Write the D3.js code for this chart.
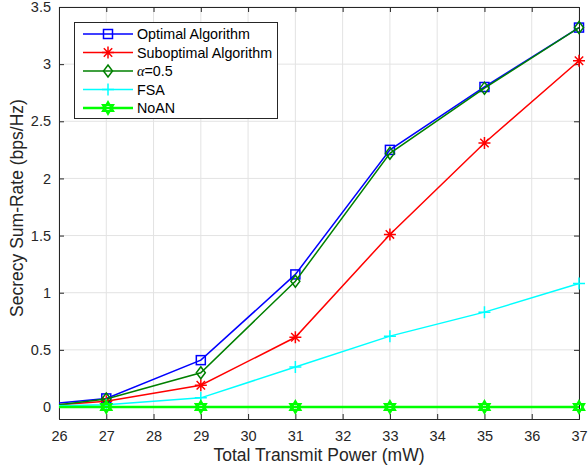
<!DOCTYPE html>
<html>
<head>
<meta charset="utf-8">
<script src="https://cdn.jsdelivr.net/npm/d3@7"></script>
<style>
  body { margin: 0; background: #fff; }
  text { font-family: "Liberation Sans", Arial, sans-serif; fill: #262626; }
</style>
</head>
<body>
<div id="chart"></div>
<script>
// data
var powers = [26, 27, 29, 31, 33, 35, 37];
var optimal = [0.035, 0.075, 0.41, 1.16, 2.25, 2.80, 3.32];
var suboptimal = [0.02, 0.05, 0.19, 0.61, 1.51, 2.31, 3.03];
var alpha05 = [0.02, 0.07, 0.30, 1.10, 2.22, 2.79, 3.32];
var fsa = [0.01, 0.02, 0.08, 0.35, 0.62, 0.83, 1.08];
var noan = [0, 0, 0, 0, 0, 0, 0];
var xTicks = [26, 27, 28, 29, 30, 31, 32, 33, 34, 35, 36, 37];
var yTicks = [0, 0.5, 1, 1.5, 2, 2.5, 3, 3.5];

var series = [
  {label: "Optimal Algorithm", values: optimal, color: "#0000ff", marker: "square", width: 1.5},
  {label: "Suboptimal Algorithm", values: suboptimal, color: "#ff0000", marker: "asterisk", width: 1.5},
  {label: "=0.5", greek: "\u03b1", values: alpha05, color: "#008000", marker: "diamond", width: 1.5},
  {label: "FSA", values: fsa, color: "#00ffff", marker: "plus", width: 1.5},
  {label: "NoAN", values: noan, color: "#00ff00", marker: "hexagram", width: 2.5}
];

var W = 588, H = 472;
var pLeft = 59, pRight = 579, pTop = 7, pBottom = 419;

var svg = d3.select("#chart").append("svg")
  .attr("width", W)
  .attr("height", H);

var x = d3.scaleLinear().domain([26, 37]).range([pLeft, pRight]);
var y = d3.scaleLinear().domain([-0.105, 3.5]).range([pBottom, pTop]);

// grid
svg.append("g").selectAll("line").data(xTicks).enter().append("line")
  .attr("x1", function(d){ return x(d); }).attr("x2", function(d){ return x(d); })
  .attr("y1", pTop).attr("y2", pBottom)
  .attr("stroke", "#e3e3e3").attr("stroke-width", 1);
svg.append("g").selectAll("line").data(yTicks).enter().append("line")
  .attr("x1", pLeft).attr("x2", pRight)
  .attr("y1", function(d){ return y(d); }).attr("y2", function(d){ return y(d); })
  .attr("stroke", "#e3e3e3").attr("stroke-width", 1);

// axes (ticks inward)
var fmt = function(d){ return d3.format("")(d); };
var xAxis = svg.append("g").attr("transform", "translate(0," + pBottom + ")")
  .call(d3.axisBottom(x).tickValues(xTicks).tickSize(-5).tickPadding(12).tickFormat(fmt));
var yAxis = svg.append("g").attr("transform", "translate(" + pLeft + ",0)")
  .call(d3.axisLeft(y).tickValues(yTicks).tickSize(-5).tickPadding(8).tickFormat(fmt));
var xTop = svg.append("g").attr("transform", "translate(0," + pTop + ")")
  .call(d3.axisTop(x).tickValues(xTicks).tickSize(-5).tickFormat(""));
var yRight = svg.append("g").attr("transform", "translate(" + pRight + ",0)")
  .call(d3.axisRight(y).tickValues(yTicks).tickSize(-5).tickFormat(""));
[xAxis, yAxis, xTop, yRight].forEach(function(a){
  a.select(".domain").attr("stroke", "#262626").attr("stroke-width", 1);
  a.selectAll(".tick line").attr("stroke", "#262626");
  a.selectAll(".tick text").attr("font-size", 14.5).attr("fill", "#262626")
    .style("font-family", "'Liberation Sans', Arial, sans-serif");
});

// axis labels
svg.append("text")
  .attr("x", (pLeft + pRight) / 2).attr("y", 461)
  .attr("text-anchor", "middle").attr("font-size", 17.5)
  .text("Total Transmit Power (mW)");
svg.append("text")
  .attr("transform", "translate(23,208) rotate(-90)")
  .attr("text-anchor", "middle").attr("font-size", 17.5)
  .text("Secrecy Sum-Rate (bps/Hz)");

// marker drawing
function drawMarker(g, type, cx, cy, color) {
  var s;
  if (type == "square") {
    g.append("rect").attr("x", cx - 4.5).attr("y", cy - 4.5).attr("width", 9).attr("height", 9)
      .attr("fill", "none").attr("stroke", color).attr("stroke-width", 1.5);
  } else if (type == "diamond") {
    s = 6;
    g.append("path").attr("d", "M" + cx + "," + (cy - s) + "L" + (cx + s * 0.75) + "," + cy + "L" + cx + "," + (cy + s) + "L" + (cx - s * 0.75) + "," + cy + "Z")
      .attr("fill", "none").attr("stroke", color).attr("stroke-width", 1.5);
  } else if (type == "asterisk") {
    s = 6;
    var p = "M" + (cx - s) + "," + cy + "L" + (cx + s) + "," + cy +
      "M" + cx + "," + (cy - s) + "L" + cx + "," + (cy + s) +
      "M" + (cx - s * 0.7) + "," + (cy - s * 0.7) + "L" + (cx + s * 0.7) + "," + (cy + s * 0.7) +
      "M" + (cx - s * 0.7) + "," + (cy + s * 0.7) + "L" + (cx + s * 0.7) + "," + (cy - s * 0.7);
    g.append("path").attr("d", p).attr("stroke", color).attr("stroke-width", 1.5);
  } else if (type == "plus") {
    s = 6;
    g.append("path").attr("d", "M" + (cx - s) + "," + cy + "L" + (cx + s) + "," + cy + "M" + cx + "," + (cy - s) + "L" + cx + "," + (cy + s))
      .attr("stroke", color).attr("stroke-width", 1.5);
  } else if (type == "hexagram") {
    s = 6;
    var t1 = [], t2 = [];
    for (var k = 0; k < 3; k++) {
      var a1 = -Math.PI / 2 + k * 2 * Math.PI / 3;
      var a2 = Math.PI / 2 + k * 2 * Math.PI / 3;
      t1.push([cx + s * Math.cos(a1), cy + s * Math.sin(a1)]);
      t2.push([cx + s * Math.cos(a2), cy + s * Math.sin(a2)]);
    }
    [t1, t2].forEach(function(t){
      g.append("path").attr("d", "M" + t.join("L") + "Z")
        .attr("fill", "none").attr("stroke", color).attr("stroke-width", 2);
    });
  }
}

var line = d3.line()
  .x(function(d){ return x(d[0]); })
  .y(function(d){ return y(d[1]); });

var plot = svg.append("g");
series.forEach(function(s){
  var pts = powers.map(function(p, i){ return [p, s.values[i]]; });
  plot.append("path").datum(pts)
    .attr("d", line)
    .attr("fill", "none")
    .attr("stroke", s.color)
    .attr("stroke-width", s.width);
  var mg = plot.append("g");
  pts.forEach(function(d, i){
    if (i == 0) return; // no marker on the first point
    drawMarker(mg, s.marker, x(d[0]), y(d[1]), s.color);
  });
});

// legend
var lg = svg.append("g");
lg.append("rect").attr("x", 74.5).attr("y", 22.5).attr("width", 203).attr("height", 96)
  .attr("fill", "#fff").attr("stroke", "#262626").attr("stroke-width", 1);
series.forEach(function(s, i){
  var ly = 34 + i * 18.5;
  lg.append("line").attr("x1", 83).attr("x2", 133).attr("y1", ly).attr("y2", ly)
    .attr("stroke", s.color).attr("stroke-width", s.width);
  drawMarker(lg, s.marker, 108, ly, s.color);
  var t = lg.append("text").attr("x", 137).attr("y", ly + 5).attr("font-size", 14.3)
    .style("fill", "#000");
  if (s.greek) {
    t.append("tspan").style("font-family", "'Liberation Serif', 'DejaVu Serif', serif")
      .style("font-style", "italic").text(s.greek);
  }
  t.append("tspan").text(s.label);
});
</script>
</body>
</html>
